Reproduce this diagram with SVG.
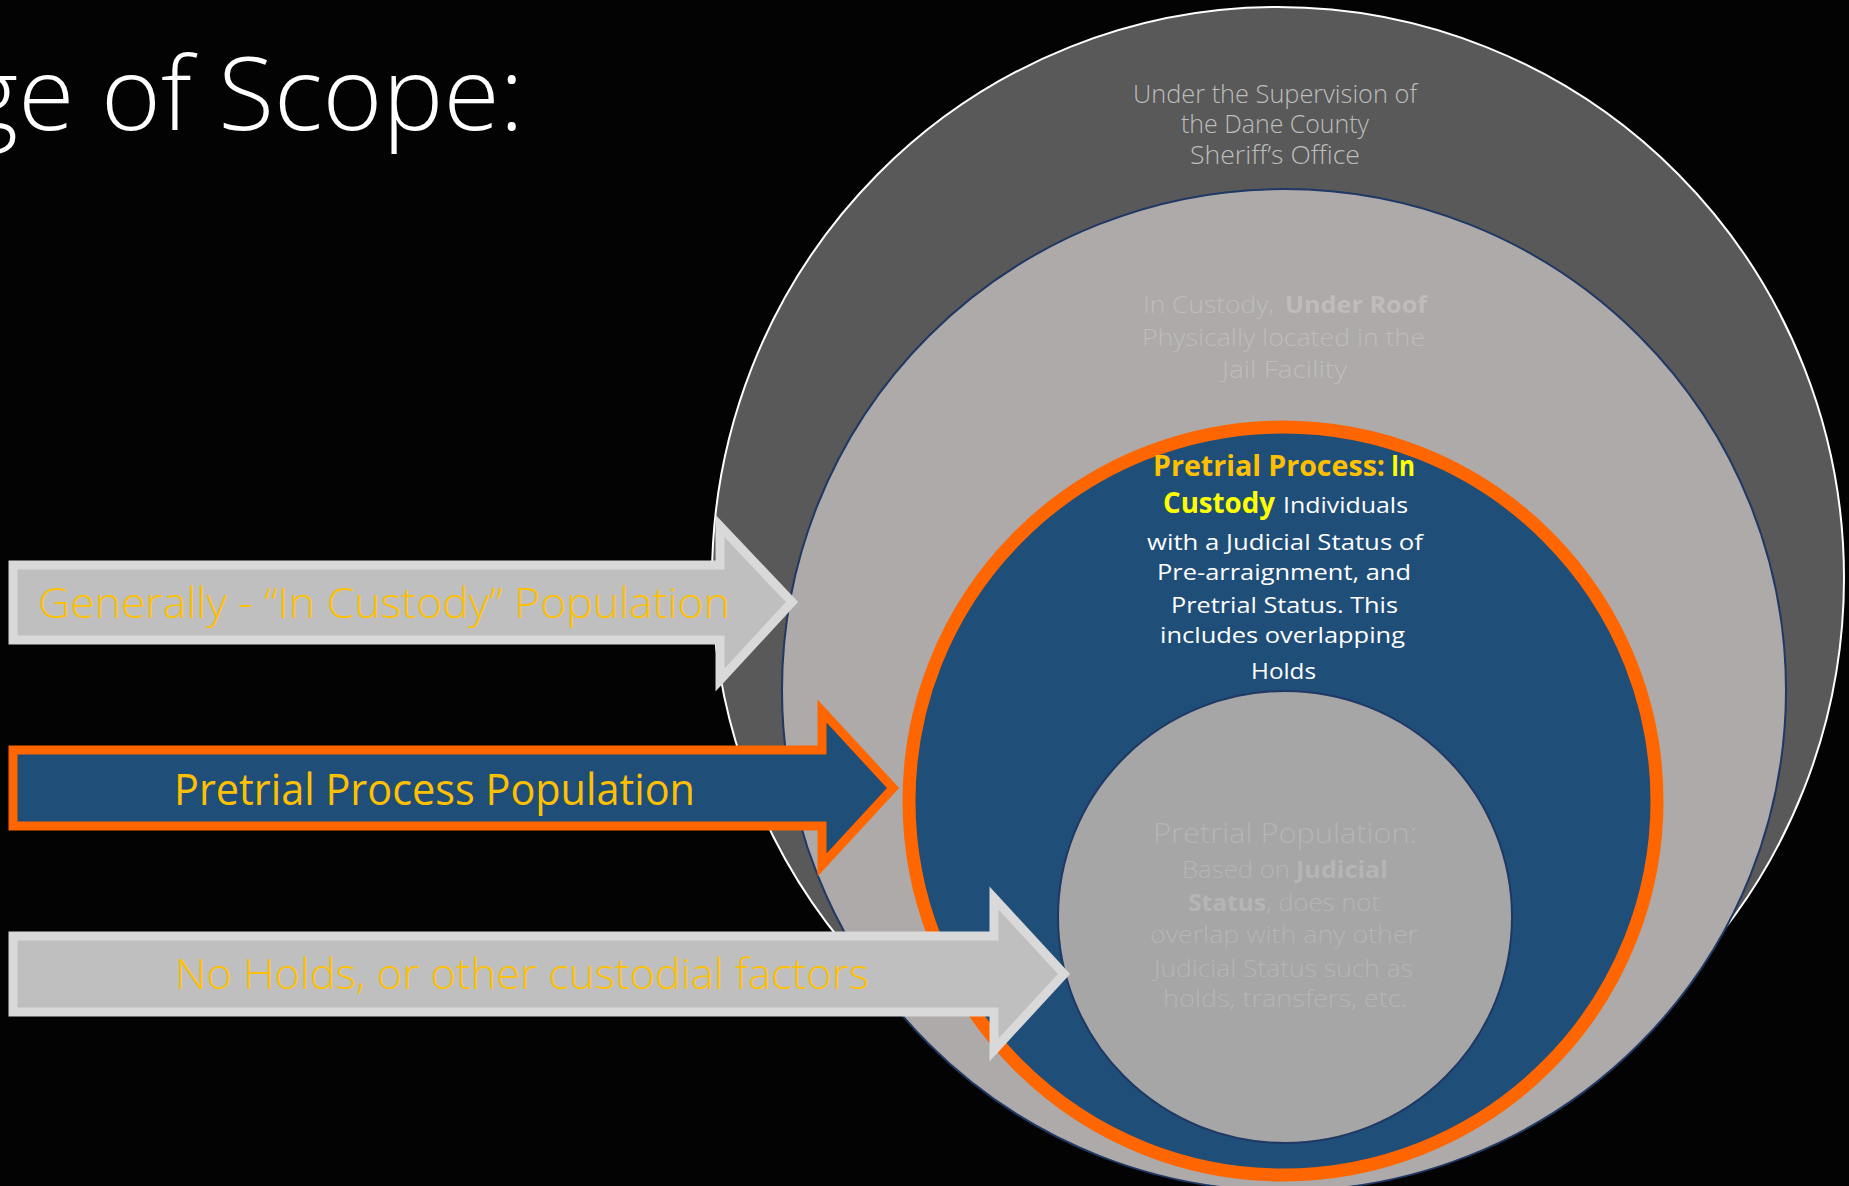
<svg xmlns="http://www.w3.org/2000/svg" width="1849" height="1186" viewBox="0 0 1849 1186">
<style>
text{font-family:"Open Sans","Noto Sans","Liberation Sans",sans-serif;}
.lt{font-weight:300;}
.b{font-weight:700;}
.garrow{fill:#BFBFBF;stroke:#D9D9D9;stroke-width:9;stroke-linejoin:miter;}
.barrow{fill:#1F4E79;stroke:#FF6600;stroke-width:9;stroke-linejoin:miter;}
.atext{font-size:43px;fill:#FFC000;}
.t1{font-size:25px;fill:#BDBDBD;}
.t2{font-size:24px;fill:#BFBCBB;}
.t3{font-size:22.5px;fill:#FFFFFF;}
.t4{font-size:23.5px;fill:#B5B5B5;}
</style>
<rect x="0" y="0" width="1849" height="1186" fill="#030303"/>
<g id="title">
<text class="lt" x="-35" y="130" font-size="102" fill="#FFFFFF" textLength="559" lengthAdjust="spacingAndGlyphs">ge of Scope:</text>
</g>
<g id="node-supervision">
<ellipse cx="1278" cy="578" rx="566" ry="571" fill="#595959" stroke="#FFFFFF" stroke-width="2"/>
<text class="t1 lt" x="1133" y="103" textLength="284" lengthAdjust="spacingAndGlyphs">Under the Supervision of</text>
<text class="t1 lt" x="1181" y="133" textLength="188" lengthAdjust="spacingAndGlyphs">the Dane County</text>
<text class="t1 lt" x="1190" y="164" textLength="170" lengthAdjust="spacingAndGlyphs">Sheriff’s Office</text>
</g>
<g id="node-under-roof">
<ellipse cx="1284" cy="690" rx="502" ry="501" fill="#ADAAA9" stroke="#1F3864" stroke-width="2"/>
<text class="t2 lt" x="1143" y="313" textLength="131" lengthAdjust="spacingAndGlyphs">In Custody,</text>
<text class="t2 b" x="1285" y="313" textLength="142" lengthAdjust="spacingAndGlyphs">Under Roof</text>
<text class="t2 lt" x="1142" y="346" textLength="283" lengthAdjust="spacingAndGlyphs">Physically located in the</text>
<text class="t2 lt" x="1222" y="378" textLength="125" lengthAdjust="spacingAndGlyphs">Jail Facility</text>
</g>
<g id="node-pretrial-process">
<circle cx="1283" cy="801" r="374" fill="#1F4E79" stroke="#FF6600" stroke-width="13"/>
<text class="b" x="1153" y="476" font-size="28" fill="#FFC000" textLength="232" lengthAdjust="spacingAndGlyphs">Pretrial Process:</text>
<text class="b" x="1391" y="476" font-size="28" fill="#FFFF00" textLength="24" lengthAdjust="spacingAndGlyphs">In</text>
<text class="b" x="1163" y="513" font-size="28" fill="#FFFF00" textLength="112" lengthAdjust="spacingAndGlyphs">Custody</text>
<text class="t3" x="1283" y="513" textLength="125" lengthAdjust="spacingAndGlyphs">Individuals</text>
<text class="t3" x="1147" y="550" textLength="276" lengthAdjust="spacingAndGlyphs">with a Judicial Status of</text>
<text class="t3" x="1157" y="580" textLength="254" lengthAdjust="spacingAndGlyphs">Pre-arraignment, and</text>
<text class="t3" x="1171" y="613" textLength="227" lengthAdjust="spacingAndGlyphs">Pretrial Status. This</text>
<text class="t3" x="1160" y="643" textLength="245" lengthAdjust="spacingAndGlyphs">includes overlapping</text>
<text class="t3" x="1251" y="679" textLength="65" lengthAdjust="spacingAndGlyphs">Holds</text>
</g>
<g id="node-pretrial-population">
<ellipse cx="1285" cy="917" rx="227" ry="226" fill="#A6A6A6" stroke="#1F3864" stroke-width="2"/>
<text class="lt" x="1153" y="843" font-size="27" fill="#B5B5B5" textLength="264" lengthAdjust="spacingAndGlyphs">Pretrial  Population:</text>
<text class="t4 lt" x="1182" y="878" textLength="108" lengthAdjust="spacingAndGlyphs">Based on</text>
<text class="t4 b" x="1296" y="878" textLength="92" lengthAdjust="spacingAndGlyphs">Judicial</text>
<text class="t4 b" x="1188" y="911" textLength="78" lengthAdjust="spacingAndGlyphs">Status</text>
<text class="t4 lt" x="1266" y="911" textLength="114" lengthAdjust="spacingAndGlyphs">, does not</text>
<text class="t4 lt" x="1150" y="943" textLength="268" lengthAdjust="spacingAndGlyphs">overlap with any other</text>
<text class="t4 lt" x="1154" y="977" textLength="259" lengthAdjust="spacingAndGlyphs">Judicial Status such as</text>
<text class="t4 lt" x="1163" y="1007" textLength="244" lengthAdjust="spacingAndGlyphs">holds,  transfers, etc.</text>
</g>
<g id="connectors">
<g id="arrow-in-custody">
<path class="garrow" d="M13,565 H720 V526 L792,602 L720,680 V640 H13 Z"/>
<text class="atext lt" x="38" y="618" textLength="692" lengthAdjust="spacingAndGlyphs">Generally - “In Custody” Population</text>
</g>
<g id="arrow-pretrial-process">
<path class="barrow" d="M13,750 H822 V711 L893,788 L822,865 V826 H13 Z"/>
<text class="atext" x="174" y="805" textLength="521" lengthAdjust="spacingAndGlyphs">Pretrial Process Population</text>
</g>
<g id="arrow-no-holds">
<path class="garrow" d="M13,936 H994 V898 L1064,974 L994,1050 V1012 H13 Z"/>
<text class="atext lt" x="175" y="989" textLength="694" lengthAdjust="spacingAndGlyphs">No Holds, or other custodial factors</text>
</g>
</g>
</svg>
